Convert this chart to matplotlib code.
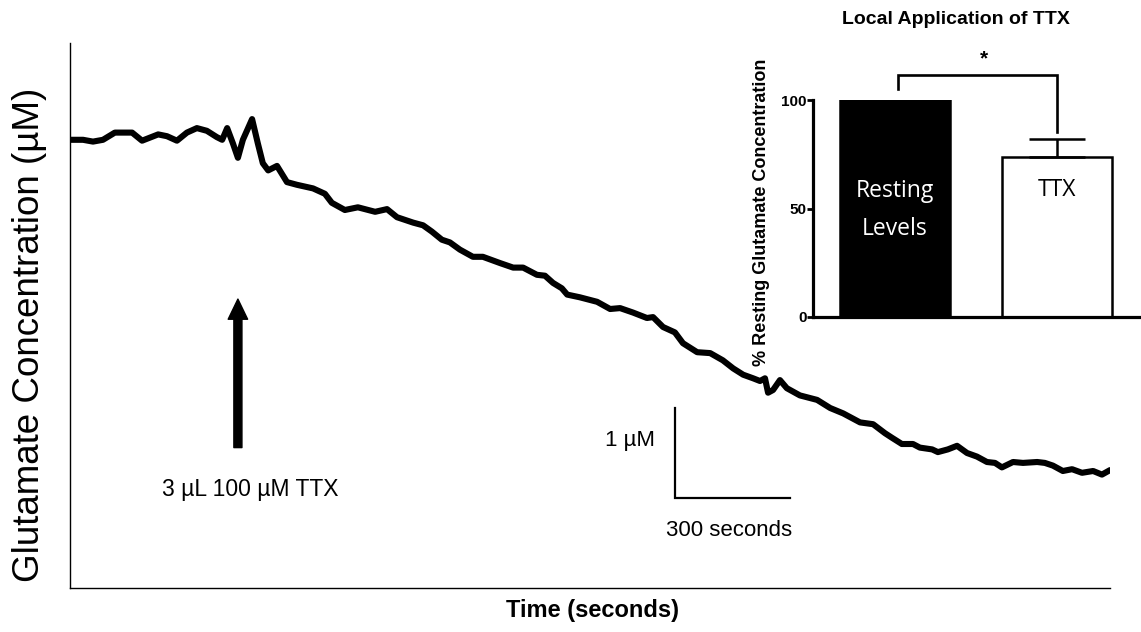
import matplotlib
matplotlib.use("Agg")
import matplotlib.pyplot as plt
from matplotlib import font_manager

# ---------------- data ----------------
# glutamate trace (time in s, concentration in uM)
time_s = [0, 34, 60, 86, 117, 162, 188, 230, 253, 279, 305, 331, 357, 383, 397,
          410, 425, 438, 451, 475, 490, 503, 517, 540, 566, 592, 634, 665, 683,
          717, 751, 796, 827, 853, 895, 921, 944, 970, 991, 1017, 1051, 1077,
          1122, 1156, 1182, 1218, 1239, 1260, 1283, 1297, 1330, 1375, 1409,
          1435, 1469, 1505, 1521, 1547, 1578, 1599, 1636, 1670, 1703, 1730,
          1756, 1782, 1800, 1813, 1821, 1834, 1852, 1870, 1904, 1949, 1983,
          2017, 2061, 2095, 2126, 2144, 2170, 2199, 2217, 2249, 2264, 2290,
          2314, 2340, 2366, 2392, 2413, 2431, 2460, 2486, 2523, 2543, 2564,
          2590, 2614, 2640, 2669, 2692, 2713]
conc_uM = [4.98, 4.98, 4.96, 4.98, 5.06, 5.06, 4.97, 5.04, 5.02, 4.97, 5.06,
           5.11, 5.08, 5.01, 4.98, 5.11, 4.94, 4.78, 4.98, 5.21, 4.94, 4.72,
           4.64, 4.69, 4.51, 4.48, 4.44, 4.38, 4.28, 4.20, 4.23, 4.18, 4.21,
           4.12, 4.06, 4.03, 3.96, 3.87, 3.84, 3.76, 3.68, 3.68, 3.61, 3.56,
           3.56, 3.48, 3.47, 3.39, 3.33, 3.26, 3.23, 3.18, 3.10, 3.11, 3.06,
           3.00, 3.01, 2.90, 2.84, 2.72, 2.62, 2.61, 2.53, 2.44, 2.37, 2.33,
           2.30, 2.33, 2.17, 2.20, 2.31, 2.22, 2.14, 2.09, 2.00, 1.94, 1.84,
           1.82, 1.72, 1.67, 1.60, 1.60, 1.56, 1.54, 1.51, 1.54, 1.58, 1.50,
           1.46, 1.40, 1.39, 1.34, 1.40, 1.39, 1.40, 1.39, 1.36, 1.30, 1.32,
           1.28, 1.30, 1.26, 1.31]
assert len(time_s) == len(conc_uM)

ttx_time = 438            # time of TTX application (s)
scale_t = 300             # scale bar, seconds
scale_c = 1               # scale bar, uM

# inset bar chart
bar_labels = ["Resting\nLevels", "TTX"]
bar_values = [100, 73.7]
bar_err = [0, 8.3]
inset_ticks = [0, 50, 100]

# ---------------- fonts ----------------
names = {f.name for f in font_manager.fontManager.ttflist}
SANS = "Liberation Sans" if "Liberation Sans" in names else "DejaVu Sans"
BARF = "Open Sans" if "Open Sans" in names else SANS
plt.rcParams["font.family"] = [SANS, "DejaVu Sans"]

fig = plt.figure(figsize=(11.41, 6.32), dpi=100)

# ---------------- main trace ----------------
ax = fig.add_axes([70/1141, 1-588/632, (1110-70)/1141, (588-43)/632])
ax.plot(time_s, conc_uM, color="black", lw=4.4, solid_joinstyle="round",
        solid_capstyle="round")
ax.set_xlim(0, 2713)
ax.set_ylim(0, (588-43)/90)
for s in ["top", "right"]:
    ax.spines[s].set_visible(False)
for s in ["left", "bottom"]:
    ax.spines[s].set_linewidth(1.0)
ax.set_xticks([])
ax.set_yticks([])

# arrow and its label
ax.annotate("", xy=(ttx_time, 3.21), xytext=(ttx_time, 1.56),
            arrowprops=dict(width=5.8, headwidth=14, headlength=14.5,
                            color="black", shrink=0))
ax.text(470, 1.09, "3 µL 100 µM TTX", ha="center", va="center", fontsize=16.5)

# scale bar
t0, c0 = 1578, 1.0
ax.plot([t0, t0, t0 + scale_t], [c0 + scale_c, c0, c0], color="black", lw=1.6,
        solid_joinstyle="miter")
ax.text(t0 - 52, c0 + 0.64, "1 µM", ha="right", va="center", fontsize=16)
ax.text(t0 + 141, c0 - 0.36, "300 seconds", ha="center", va="center", fontsize=16)

fig.text(30/1141, 1-335/632, "Glutamate Concentration (µM)", rotation=90,
         ha="center", va="center", fontsize=26.5)
fig.text(592/1141, 1-610/632, "Time (seconds)", ha="center", va="center",
         fontsize=17, fontweight="bold")

# ---------------- inset bar chart ----------------
ai = fig.add_axes([813/1141, 1-317/632, (1139-813)/1141, 217/632])
ai.set_facecolor("none")
xs = [0, 1]
ai.bar(xs, bar_values, width=0.68, color=["black", "white"],
       edgecolor="black", linewidth=1.8, zorder=2)
ai.errorbar(xs[1], bar_values[1], yerr=[[0], [bar_err[1]]], color="black",
            elinewidth=1.8, capsize=20, capthick=1.8, zorder=3)
ai.set_xlim(-0.506, 1.506)
ai.set_ylim(0, 100)
ai.set_xticks([])
ai.set_yticks(inset_ticks)
ai.set_yticklabels([str(v) for v in inset_ticks], fontweight="bold", fontsize=11)
ai.tick_params(axis="y", length=4, width=2, pad=0.5)
for s in ["top", "right"]:
    ai.spines[s].set_visible(False)
for s in ["left", "bottom"]:
    ai.spines[s].set_linewidth(2.3)

# bar labels
ai.text(xs[0], 49.3, bar_labels[0], ha="center", va="center", color="white",
        fontsize=16.5, family=[BARF, "DejaVu Sans"], linespacing=1.75)
ai.text(xs[1], 58.5, bar_labels[1], ha="center", va="center", color="black",
        fontsize=16.5, family=[BARF, "DejaVu Sans"])

# significance bracket
ai.plot([0.02, 0.02, 1, 1], [105, 111.5, 111.5, 85.3], color="black", lw=1.9,
        clip_on=False, solid_joinstyle="miter")
ai.text(0.55, 119, "*", ha="center", va="center", fontsize=15, fontweight="bold")

fig.text(956/1141, 1-20/632, "Local Application of TTX", ha="center",
         va="center", fontsize=14, fontweight="bold")
fig.text(762/1141, 1-212/632, "% Resting Glutamate Concentration", rotation=90,
         ha="center", va="center", fontsize=13, fontweight="bold")

fig.savefig("out.png", dpi=100)
